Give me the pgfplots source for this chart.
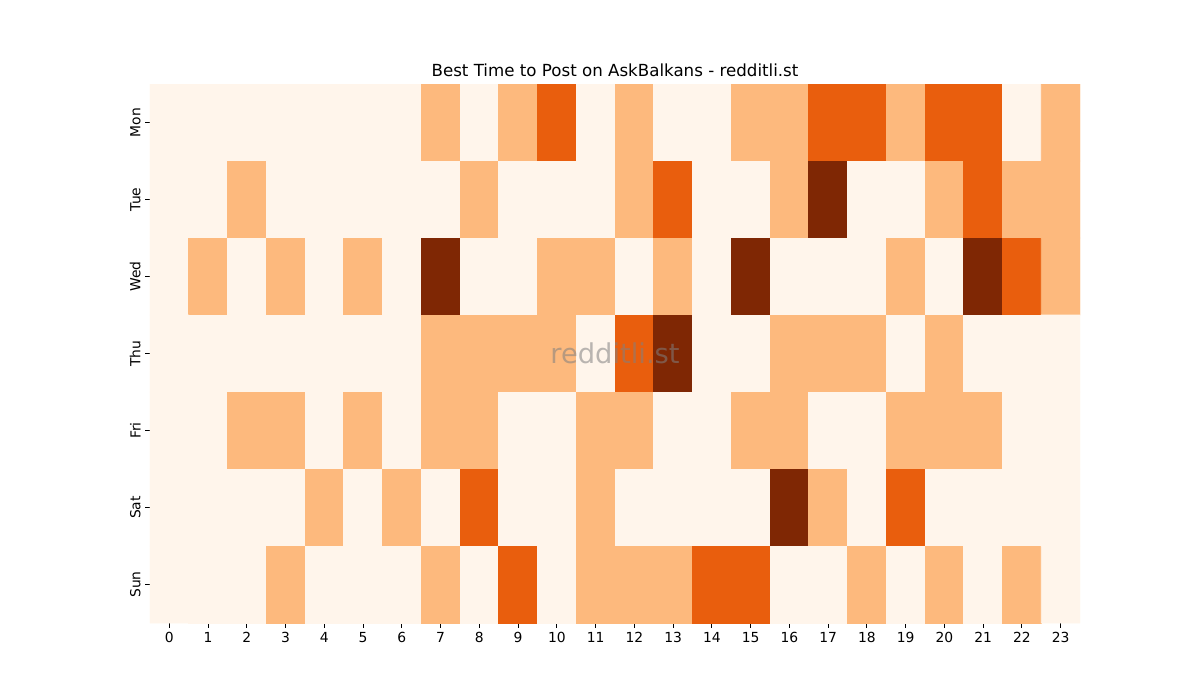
\documentclass[border=0pt]{standalone}
\usepackage{pgfplots}
\pgfplotsset{compat=1.18}
\usepackage{fontspec}
\setmainfont{DejaVu Sans}
\definecolor{wm}{RGB}{128,128,128}
\begin{document}
\begin{tikzpicture}[x=0.75pt,y=0.75pt]
% page = 1200 x 700 px, axis box at px (150..1080, 84..623)
\path (-150,-77) rectangle (1050,623);
\begin{axis}[
  at={(0,0)}, anchor=south west,
  width=697.5pt, height=404.25pt, scale only axis,
  xmin=-0.5, xmax=23.5, ymin=-0.5, ymax=6.5,
  y dir=reverse,
  axis line style={draw=none},
  xtick={0,...,23}, ytick={0,...,6},
  xtick pos=bottom, ytick pos=left,
  yticklabels={Mon,Tue,Wed,Thu,Fri,Sat,Sun},
  yticklabel style={rotate=90, anchor=south, font=\fontsize{10.4}{12}\selectfont},
  xticklabel style={font=\fontsize{10.4}{12}\selectfont},
  /pgf/number format/assume math mode=true,
  tick align=outside, major tick length=3.5pt,
  tick style={black, line width=0.6pt},
  title={Best Time to Post on AskBalkans - redditli.st},
  title style={font=\fontsize{12.5}{14}\selectfont, yshift=-4pt},
  colormap={oranges}{rgb255=(255,245,235) rgb255=(253,185,125) rgb255=(233,94,13) rgb255=(127,39,4)},
  point meta min=0, point meta max=3,
]
\addplot[matrix plot*, mesh/cols=24, mesh/rows=7, point meta=explicit]
  table[meta=c, row sep=\\] {
x y c\\
0 0 0\\ 1 0 0\\ 2 0 0\\ 3 0 0\\ 4 0 0\\ 5 0 0\\ 6 0 0\\ 7 0 1\\ 8 0 0\\ 9 0 1\\ 10 0 2\\ 11 0 0\\ 12 0 1\\ 13 0 0\\ 14 0 0\\ 15 0 1\\ 16 0 1\\ 17 0 2\\ 18 0 2\\ 19 0 1\\ 20 0 2\\ 21 0 2\\ 22 0 0\\ 23 0 1\\
0 1 0\\ 1 1 0\\ 2 1 1\\ 3 1 0\\ 4 1 0\\ 5 1 0\\ 6 1 0\\ 7 1 0\\ 8 1 1\\ 9 1 0\\ 10 1 0\\ 11 1 0\\ 12 1 1\\ 13 1 2\\ 14 1 0\\ 15 1 0\\ 16 1 1\\ 17 1 3\\ 18 1 0\\ 19 1 0\\ 20 1 1\\ 21 1 2\\ 22 1 1\\ 23 1 1\\
0 2 0\\ 1 2 1\\ 2 2 0\\ 3 2 1\\ 4 2 0\\ 5 2 1\\ 6 2 0\\ 7 2 3\\ 8 2 0\\ 9 2 0\\ 10 2 1\\ 11 2 1\\ 12 2 0\\ 13 2 1\\ 14 2 0\\ 15 2 3\\ 16 2 0\\ 17 2 0\\ 18 2 0\\ 19 2 1\\ 20 2 0\\ 21 2 3\\ 22 2 2\\ 23 2 1\\
0 3 0\\ 1 3 0\\ 2 3 0\\ 3 3 0\\ 4 3 0\\ 5 3 0\\ 6 3 0\\ 7 3 1\\ 8 3 1\\ 9 3 1\\ 10 3 1\\ 11 3 0\\ 12 3 2\\ 13 3 3\\ 14 3 0\\ 15 3 0\\ 16 3 1\\ 17 3 1\\ 18 3 1\\ 19 3 0\\ 20 3 1\\ 21 3 0\\ 22 3 0\\ 23 3 0\\
0 4 0\\ 1 4 0\\ 2 4 1\\ 3 4 1\\ 4 4 0\\ 5 4 1\\ 6 4 0\\ 7 4 1\\ 8 4 1\\ 9 4 0\\ 10 4 0\\ 11 4 1\\ 12 4 1\\ 13 4 0\\ 14 4 0\\ 15 4 1\\ 16 4 1\\ 17 4 0\\ 18 4 0\\ 19 4 1\\ 20 4 1\\ 21 4 1\\ 22 4 0\\ 23 4 0\\
0 5 0\\ 1 5 0\\ 2 5 0\\ 3 5 0\\ 4 5 1\\ 5 5 0\\ 6 5 1\\ 7 5 0\\ 8 5 2\\ 9 5 0\\ 10 5 0\\ 11 5 1\\ 12 5 0\\ 13 5 0\\ 14 5 0\\ 15 5 0\\ 16 5 3\\ 17 5 1\\ 18 5 0\\ 19 5 2\\ 20 5 0\\ 21 5 0\\ 22 5 0\\ 23 5 0\\
0 6 0\\ 1 6 0\\ 2 6 0\\ 3 6 1\\ 4 6 0\\ 5 6 0\\ 6 6 0\\ 7 6 1\\ 8 6 0\\ 9 6 2\\ 10 6 0\\ 11 6 1\\ 12 6 1\\ 13 6 1\\ 14 6 2\\ 15 6 2\\ 16 6 0\\ 17 6 0\\ 18 6 1\\ 19 6 0\\ 20 6 1\\ 21 6 0\\ 22 6 1\\ 23 6 0\\
};
\node[text=wm, opacity=0.55, font=\fontsize{20.5}{24}\selectfont] at (axis cs:11.5,3) {redditli.st};
\end{axis}
\end{tikzpicture}
\end{document}
